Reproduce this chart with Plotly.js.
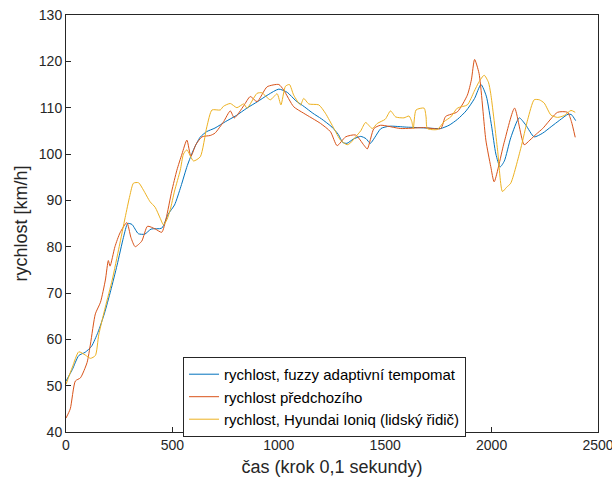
<!DOCTYPE html>
<html>
<head>
<meta charset="utf-8">
<script src="https://cdn.plot.ly/plotly-3.0.1.min.js"></script>
<style>html,body{margin:0;padding:0;background:#fff;}#chart{width:612px;height:486px;}</style>
</head>
<body>
<div id="chart"></div>
<script>
const seriesNames = ["rychlost, fuzzy adaptivní tempomat", "rychlost předchozího", "rychlost, Hyundai Ioniq (lidský řidič)"];

const fuzzyX = [0,30,60,90,120,150,180,210,240,270,290,310,340,370,400,450,480,510,540,570,600,630,660,700,750,800,850,900,950,1000,1040,1080,1120,1160,1200,1250,1280,1300,1320,1350,1385,1410,1430,1450,1480,1520,1600,1700,1760,1800,1840,1880,1920,1950,1975,2000,2020,2040,2060,2090,2130,2160,2200,2240,2280,2320,2360,2375,2395];
const fuzzyY = [51,53.5,56.5,57.2,58.5,61.5,65.5,70.5,76,82,85,84.8,82.8,82.7,83.8,84,87,89,93,97.5,101,103.6,104.8,105.6,107,108.3,109.9,111.3,112.8,114,113.3,111.5,110.2,108.8,107.6,105.8,104.2,102.5,102.3,103.2,103.8,103.3,102.3,103.5,105.5,106,105.8,105.6,105.5,106.2,107.5,109.3,112,115,112.5,106,100,97.2,98.5,103.5,107.8,106.3,103.7,104.5,105.9,107.3,108.6,108.5,107.2];

const leadX = [0,20,44,68,99,115,138,162,185,199,207,230,254,286,305,325,356,383,420,450,470,497,521,545,568,587,610,639,678,700,741,772,791,835,866,898,945,1000,1023,1070,1117,1196,1243,1274,1314,1361,1400,1416,1447,1478,1573,1680,1761,1784,1839,1886,1905,1920,1941,1973,1996,2012,2059,2108,2153,2180,2210,2240,2310,2357,2375,2393];
const leadY = [43,45,51,51.7,55,59,65.5,68,72.8,77,75.8,80,83,85.2,82,80,81.2,84.4,83.8,83.1,86,92,96.5,100,103,99.5,102,103.7,104,104.5,107,109.3,107.8,110.4,112.4,111.3,114.5,115,113.8,110.2,108.8,106.6,104.8,101.8,103.7,104.1,101.9,101.1,105.5,106.2,105.5,105.7,105.5,108.1,109.1,112.7,116,120.4,117.4,103,97.3,94,102.5,109.9,102,103,104.3,105.5,109,109,107,103.6];

const humanX = [0,30,60,91,115,138,154,185,217,250,278,300,317,341,364,395,419,443,458,474,490,510,537,552,568,599,631,662,686,725,740,772,803,835,851,898,921,960,992,1010,1031,1050,1070,1102,1117,1141,1188,1219,1259,1290,1321,1337,1361,1385,1408,1439,1463,1500,1525,1549,1588,1612,1625,1632,1645,1683,1692,1698,1745,1777,1808,1839,1886,1918,1940,1965,1985,1996,2028,2051,2070,2090,2137,2170,2200,2224,2247,2279,2310,2341,2373,2393];
const humanY = [50.3,54,57.3,56.6,55.9,56.5,61,67,72.8,80,86.3,91,93.7,93.8,92.2,89.7,88.5,86.1,84.7,85.8,88,92,96.5,100,100.9,98.5,99.4,105.9,109.5,109.5,110.3,110.9,110,110.8,109.9,113.1,113.2,111.7,113,110.6,114.6,115,112.7,110.6,112,110.8,110.6,108.8,105.5,103,102,102.4,103.7,105,106.8,105.5,106.6,107.5,109.3,108,107.8,108.2,107,105.5,109.5,109.9,108,105.5,105.3,107,108,109.9,110.6,113.5,115.5,117,115.5,113,100.9,91.9,92.8,93.7,101.2,107.5,111.7,111.7,111,108.4,107.9,108.3,109.4,109];

const colors = ["#0072BD", "#D95319", "#EDB120"];
const xs = [fuzzyX, leadX, humanX];
const ys = [fuzzyY, leadY, humanY];

const traces = seriesNames.map((n, i) => ({
  x: xs[i], y: ys[i], name: n, type: "scatter", mode: "lines",
  line: {color: colors[i], width: 1, shape: "spline", smoothing: 0.6}
}));

const axisCommon = {
  showgrid: false, zeroline: false, showline: true, mirror: true,
  linecolor: "#262626", linewidth: 1, ticks: "inside", ticklen: 5,
  tickcolor: "#262626", tickfont: {size: 14, color: "#262626"},
  ticklabeloverflow: "allow"
};

const layout = {
  width: 612, height: 486,
  margin: {l: 66, r: 14, t: 15, b: 54},
  paper_bgcolor: "#fff", plot_bgcolor: "#fff",
  font: {family: "Liberation Sans, Arial, sans-serif", color: "#262626"},
  showlegend: true,
  legend: {x: 0.22, y: 0.18, xanchor: "left", yanchor: "top",
    bgcolor: "#fff", bordercolor: "#262626", borderwidth: 1,
    font: {size: 15, color: "#000"}, tracegroupgap: 0},
  xaxis: Object.assign({}, axisCommon, {range: [0, 2500], dtick: 500, tick0: 0,
    title: {text: "čas (krok 0,1 sekundy)", font: {size: 18, color: "#262626"}, standoff: 8}}),
  yaxis: Object.assign({}, axisCommon, {range: [40, 130], dtick: 10, tick0: 40,
    title: {text: "rychlost [km/h]", font: {size: 18, color: "#262626"}, standoff: 6}})
};

Plotly.newPlot("chart", traces, layout, {displayModeBar: false, staticPlot: true});
</script>
</body>
</html>
